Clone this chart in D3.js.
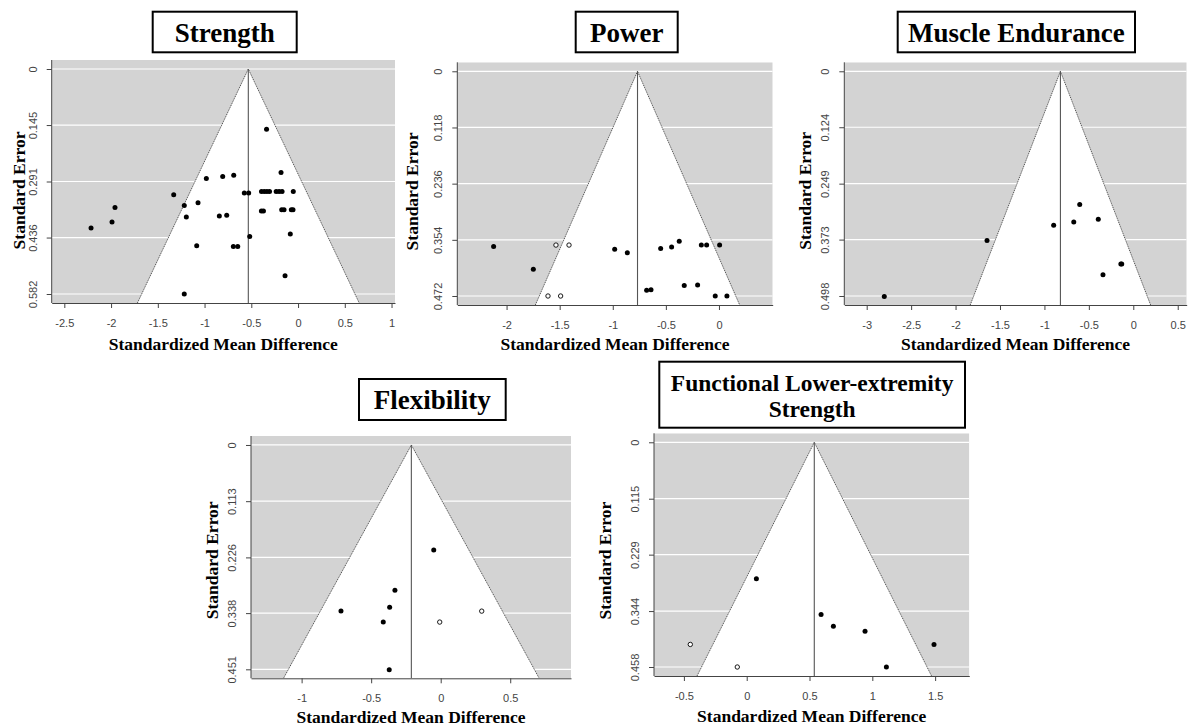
<!DOCTYPE html>
<html>
<head>
<meta charset="utf-8">
<script src="https://cdn.jsdelivr.net/npm/d3@7"></script>
<style>
  body { margin: 0; background: #fff; }
  svg { display: block; }
</style>
</head>
<body>
<svg id="chart"></svg>
<script>
// ---- data: [standardized mean difference, standard error] ----
const strengthTitle = ["Strength"];
const strengthEstimate = -0.532;
const strengthXTicks = [-2.5, -2, -1.5, -1, -0.5, 0, 0.5, 1];
const strengthYTicks = [0, 0.145, 0.291, 0.436, 0.582];
const strengthXLim = [-2.635, 1.037];
const strengthStudies = [
  [-0.337, 0.156], [-0.182, 0.268], [-0.981, 0.283], [-0.806, 0.278], [-0.688, 0.275],
  [-1.330, 0.325], [-0.575, 0.321], [-0.528, 0.321],
  [-0.391, 0.317], [-0.362, 0.317], [-0.333, 0.317], [-0.305, 0.317],
  [-0.234, 0.317], [-0.203, 0.317], [-0.171, 0.317], [-0.051, 0.317],
  [-1.958, 0.358], [-1.217, 0.353], [-1.070, 0.346], [-0.392, 0.367], [-0.370, 0.367],
  [-0.175, 0.364], [-0.150, 0.364], [-0.072, 0.364], [-0.054, 0.364],
  [-1.990, 0.396], [-1.195, 0.383], [-0.842, 0.380], [-0.763, 0.378],
  [-2.214, 0.411], [-0.517, 0.433], [-0.083, 0.427], [-1.084, 0.457],
  [-0.692, 0.459], [-0.645, 0.459], [-0.139, 0.535], [-1.217, 0.582],
];
const strengthImputed = [];

const powerTitle = ["Power"];
const powerEstimate = -0.767;
const powerXTicks = [-2, -1.5, -1, -0.5, 0];
const powerYTicks = [0, 0.118, 0.236, 0.354, 0.472];
const powerXLim = [-2.464, 0.506];
const powerStudies = [
  [-2.122, 0.368], [-1.748, 0.416], [-0.982, 0.374], [-0.863, 0.381], [-0.549, 0.372],
  [-0.446, 0.369], [-0.374, 0.357], [-0.166, 0.365], [-0.116, 0.365], [0.006, 0.365],
  [-0.681, 0.460], [-0.640, 0.459], [-0.327, 0.450], [-0.201, 0.449], [-0.035, 0.472],
  [0.075, 0.472],
];
const powerImputed = [[-1.535, 0.365], [-1.412, 0.365], [-1.610, 0.472], [-1.491, 0.472]];

const enduranceTitle = ["Muscle Endurance"];
const enduranceEstimate = -0.82;
const enduranceXTicks = [-3, -2.5, -2, -1.5, -1, -0.5, 0, 0.5];
const enduranceYTicks = [0, 0.124, 0.249, 0.373, 0.498];
const enduranceXLim = [-3.252, 0.601];
const enduranceStudies = [
  [-2.802, 0.499], [-1.646, 0.375], [-0.896, 0.341], [-0.670, 0.334], [-0.603, 0.295],
  [-0.394, 0.328], [-0.140, 0.427], [-0.130, 0.427], [-0.341, 0.451],
];
const enduranceImputed = [];

const flexibilityTitle = ["Flexibility"];
const flexibilityEstimate = -0.211;
const flexibilityXTicks = [-1, -0.5, 0, 0.5];
const flexibilityYTicks = [0, 0.113, 0.226, 0.338, 0.451];
const flexibilityXLim = [-1.364, 0.937];
const flexibilityStudies = [
  [-0.050, 0.211], [-0.329, 0.292], [-0.367, 0.326], [-0.717, 0.334], [-0.413, 0.356],
  [-0.370, 0.452],
];
const flexibilityImputed = [[0.295, 0.334], [-0.007, 0.356]];

const functionalTitle = ["Functional Lower-extremity", "Strength"];
const functionalEstimate = 0.538;
const functionalXTicks = [-0.5, 0, 0.5, 1, 1.5];
const functionalYTicks = [0, 0.115, 0.229, 0.344, 0.458];
const functionalXLim = [-0.738, 1.772];
const functionalStudies = [
  [0.077, 0.278], [0.592, 0.351], [0.690, 0.375], [0.942, 0.385], [1.491, 0.412],
  [1.112, 0.458],
];
const functionalImputed = [[-0.449, 0.412], [-0.075, 0.458]];

const xLabel = "Standardized Mean Difference";
const yLabel = "Standard Error";

class FunnelPlot {
  constructor(svg, panel, layout, id) {
    this.svg = svg;
    this.panel = panel;
    this.layout = layout;
    this.id = id;
    this.render();
  }
  render() {
    const { left, top, right, bottom, titleBox, titleBaselines, titleSize, xlabY, ylabX, ylabY } = this.layout;
    const { title, estimate, xTicks, yTicks, xLim, studies, imputed } = this.panel;
    const seMax = yTicks[yTicks.length - 1];
    const pad = seMax * 0.04;

    const x = d3.scaleLinear().domain(xLim).range([left, right]);
    const y = d3.scaleLinear().domain([-pad, seMax + pad]).range([top, bottom]);
    const g = this.svg.append("g");

    g.append("clipPath")
      .attr("id", `clip-${this.id}`)
      .append("rect")
      .attr("x", left).attr("y", top)
      .attr("width", right - left).attr("height", bottom - top);

    const plot = g.append("g").attr("clip-path", `url(#clip-${this.id})`);

    // grey background
    plot.append("rect")
      .attr("x", left).attr("y", top)
      .attr("width", right - left).attr("height", bottom - top)
      .attr("fill", "#d3d3d3");

    // white gridlines at the y ticks
    plot.selectAll("line.grid")
      .data(yTicks)
      .join("line")
      .attr("class", "grid")
      .attr("x1", left).attr("x2", right)
      .attr("y1", (d) => y(d)).attr("y2", (d) => y(d))
      .attr("stroke", "#fff")
      .attr("stroke-width", 1.2);

    // pseudo confidence region
    const seBottom = y.invert(bottom);
    const funnel = [
      [estimate - 1.96 * seBottom, seBottom],
      [estimate, 0],
      [estimate + 1.96 * seBottom, seBottom],
    ];
    const funnelLine = d3.line().x((d) => x(d[0])).y((d) => y(d[1]));
    plot.append("path")
      .attr("d", funnelLine(funnel) + "Z")
      .attr("fill", "#fff");
    plot.append("path")
      .attr("d", funnelLine(funnel))
      .attr("fill", "none")
      .attr("stroke", "#444")
      .attr("stroke-width", 0.9)
      .attr("stroke-dasharray", "1.2,0.8");

    // reference line at the pooled estimate
    plot.append("line")
      .attr("x1", x(estimate)).attr("x2", x(estimate))
      .attr("y1", y(0)).attr("y2", bottom)
      .attr("stroke", "#555")
      .attr("stroke-width", 1.1);

    // studies
    g.append("g")
      .selectAll("circle")
      .data(studies)
      .join("circle")
      .attr("cx", (d) => x(d[0]))
      .attr("cy", (d) => y(d[1]))
      .attr("r", 2.5)
      .attr("fill", "#000");
    g.append("g")
      .selectAll("circle")
      .data(imputed)
      .join("circle")
      .attr("cx", (d) => x(d[0]))
      .attr("cy", (d) => y(d[1]))
      .attr("r", 2.2)
      .attr("fill", "#fff")
      .attr("stroke", "#000")
      .attr("stroke-width", 0.9);

    // axes
    const xAxis = g.append("g")
      .attr("transform", `translate(0, ${bottom})`)
      .call(d3.axisBottom(x).tickValues(xTicks).tickSize(5).tickSizeOuter(0).tickFormat((d) => String(d)));
    xAxis.selectAll("text").attr("y", 23.5).attr("dy", 0);

    const yAxis = g.append("g")
      .attr("transform", `translate(${left}, 0)`)
      .call(d3.axisLeft(y).tickValues(yTicks).tickSize(5).tickSizeOuter(0).tickFormat((d) => String(d)));
    yAxis.select(".domain").attr("d", `M0,${top}V${bottom}`);
    yAxis.selectAll("text")
      .attr("transform", "rotate(-90)")
      .attr("x", 0).attr("y", -15).attr("dy", 0)
      .attr("text-anchor", "middle");

    [xAxis, yAxis].forEach((a) => {
      a.selectAll("text")
        .attr("fill", "#444")
        .style("font-family", "'Liberation Sans', Arial, sans-serif")
        .style("font-size", "11px");
      a.selectAll("line").attr("stroke", "#444");
      a.select(".domain").attr("stroke", "#444");
    });

    // axis titles
    g.append("text")
      .attr("x", (left + right) / 2)
      .attr("y", xlabY)
      .attr("text-anchor", "middle")
      .style("font-family", "'Liberation Serif', 'Times New Roman', serif")
      .style("font-weight", "bold")
      .style("font-size", "17.5px")
      .text(xLabel);
    g.append("text")
      .attr("transform", `translate(${ylabX}, ${ylabY}) rotate(-90)`)
      .attr("text-anchor", "middle")
      .style("font-family", "'Liberation Serif', 'Times New Roman', serif")
      .style("font-weight", "bold")
      .style("font-size", "17.5px")
      .text(yLabel);

    // boxed panel title
    const [bx0, by0, bx1, by1] = titleBox;
    g.append("rect")
      .attr("x", bx0).attr("y", by0)
      .attr("width", bx1 - bx0).attr("height", by1 - by0)
      .attr("fill", "#fff")
      .attr("stroke", "#000")
      .attr("stroke-width", 2);
    g.selectAll("text.title")
      .data(title)
      .join("text")
      .attr("class", "title")
      .attr("x", (bx0 + bx1) / 2)
      .attr("y", (_, i) => titleBaselines[i])
      .attr("text-anchor", "middle")
      .style("font-family", "'Liberation Serif', 'Times New Roman', serif")
      .style("font-weight", "bold")
      .style("font-size", `${titleSize}px`)
      .text((d) => d);
  }
}

function main() {
  const svg = d3.select("svg#chart").attr("width", 1192).attr("height", 727);

  const panels = [
    { title: strengthTitle, estimate: strengthEstimate, xTicks: strengthXTicks, yTicks: strengthYTicks, xLim: strengthXLim, studies: strengthStudies, imputed: strengthImputed },
    { title: powerTitle, estimate: powerEstimate, xTicks: powerXTicks, yTicks: powerYTicks, xLim: powerXLim, studies: powerStudies, imputed: powerImputed },
    { title: enduranceTitle, estimate: enduranceEstimate, xTicks: enduranceXTicks, yTicks: enduranceYTicks, xLim: enduranceXLim, studies: enduranceStudies, imputed: enduranceImputed },
    { title: flexibilityTitle, estimate: flexibilityEstimate, xTicks: flexibilityXTicks, yTicks: flexibilityYTicks, xLim: flexibilityXLim, studies: flexibilityStudies, imputed: flexibilityImputed },
    { title: functionalTitle, estimate: functionalEstimate, xTicks: functionalXTicks, yTicks: functionalYTicks, xLim: functionalXLim, studies: functionalStudies, imputed: functionalImputed },
  ];
  const layouts = [
    { left: 51.7, top: 60, right: 395, bottom: 303, titleBox: [152.7, 11.7, 296.7, 52.3], titleBaselines: [41.7], titleSize: 27, xlabY: 350, ylabX: 25, ylabY: 190.5 },
    { left: 457.3, top: 62.3, right: 772.7, bottom: 305, titleBox: [575.7, 11.7, 677.7, 52.3], titleBaselines: [41.7], titleSize: 27, xlabY: 350, ylabX: 418.3, ylabY: 191.5 },
    { left: 844.3, top: 62.3, right: 1186.7, bottom: 305, titleBox: [897.7, 11.7, 1135, 52.3], titleBaselines: [41.7], titleSize: 27, xlabY: 350, ylabX: 810.7, ylabY: 190.8 },
    { left: 251, top: 436, right: 571, bottom: 678.3, titleBox: [359, 379, 505.7, 420], titleBaselines: [409.3], titleSize: 27, xlabY: 722.7, ylabX: 218.3, ylabY: 560.3 },
    { left: 654, top: 433.3, right: 969.3, bottom: 676, titleBox: [659.3, 361.7, 965, 427.7], titleBaselines: [390.7, 417.3], titleSize: 23.5, xlabY: 721.7, ylabX: 610.7, ylabY: 560.7 },
  ];
  panels.forEach((p, i) => new FunnelPlot(svg, p, layouts[i], i));
}

main();
</script>
</body>
</html>
